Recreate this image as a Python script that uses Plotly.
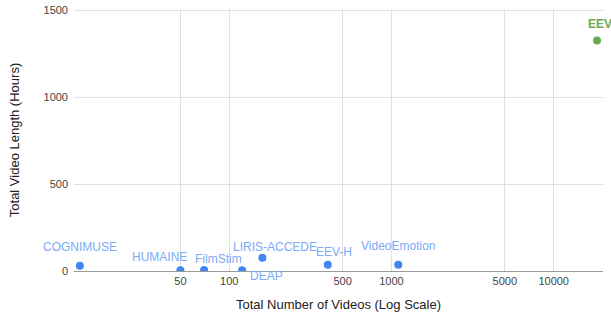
import math
import plotly.graph_objects as go

datasets = ["COGNIMUSE", "HUMAINE", "FilmStim", "DEAP", "LIRIS-ACCEDE", "EEV-H", "VideoEmotion", "EEV"]
num_videos = [12, 50, 70, 120, 160, 405, 1101, 18500]
hours = [30, 5, 6, 4, 76, 36, 36, 1327]
highlight = [False, False, False, False, False, False, False, True]

x_tick_vals = [50, 100, 500, 1000, 5000, 10000]
x_tick_text = ["50", "100", "500", "1000", "5000", "10000"]
y_tick_vals = [0, 500, 1000, 1500]

# label offsets in pixels (style only)
label_shift = {
    "COGNIMUSE": (0, 19), "HUMAINE": (-21, 13), "FilmStim": (14, 11),
    "DEAP": (24, -6), "LIRIS-ACCEDE": (13, 11), "EEV-H": (6, 13),
    "VideoEmotion": (0, 19), "EEV": (3, 16),
}

BLUE = "#4285f4"
LBLUE = "#7baaf7"
GREEN = "#6aa84f"

colors = [GREEN if h else BLUE for h in highlight]

fig = go.Figure()
fig.add_trace(go.Scatter(
    x=num_videos, y=hours, mode="markers",
    marker=dict(size=8, color=colors, line=dict(width=0)),
    showlegend=False, hoverinfo="text", text=datasets,
))

for name, xv, yv, h in zip(datasets, num_videos, hours, highlight):
    dx, dy = label_shift[name]
    fig.add_annotation(
        x=math.log10(xv), y=yv, xref="x", yref="y",
        text=f"<b>{name}</b>" if h else name,
        showarrow=False, xshift=dx, yshift=dy,
        font=dict(family="Liberation Sans, Arial", size=12, color=GREEN if h else LBLUE),
    )

fig.update_layout(
    width=611, height=315,
    margin=dict(l=74, r=8, t=9, b=44, autoexpand=False),
    paper_bgcolor="white", plot_bgcolor="white",
    font=dict(family="Liberation Sans, Arial", size=11, color="#444"),
    xaxis=dict(
        type="log", range=[1.043, 4.304], automargin=False,
        tickmode="array", tickvals=x_tick_vals, ticktext=x_tick_text,
        showgrid=True, gridcolor="#e0e0e0", gridwidth=1,
        showline=True, linecolor="#9a9a9a", linewidth=1,
        zeroline=False, ticks="",
        title=dict(text="Total Number of Videos (Log Scale)",
                   font=dict(size=13, color="#222"), standoff=13),
        tickfont=dict(size=11, color="#444"),
    ),
    yaxis=dict(
        range=[0, 1508], tickmode="array", tickvals=y_tick_vals, automargin=False,
        showgrid=True, gridcolor="#e0e0e0", gridwidth=1,
        zeroline=False, showline=False, ticks="", ticklabelstandoff=5,
        ticklabeloverflow="allow",
        title=dict(text="Total Video Length (Hours)",
                   font=dict(size=13, color="#222"), standoff=20),
        tickfont=dict(size=11, color="#444"),
    ),
)

fig.write_html("out.html", config={"displayModeBar": False},
               post_script="document.body.style.margin='0';document.body.style.overflow='hidden';")
